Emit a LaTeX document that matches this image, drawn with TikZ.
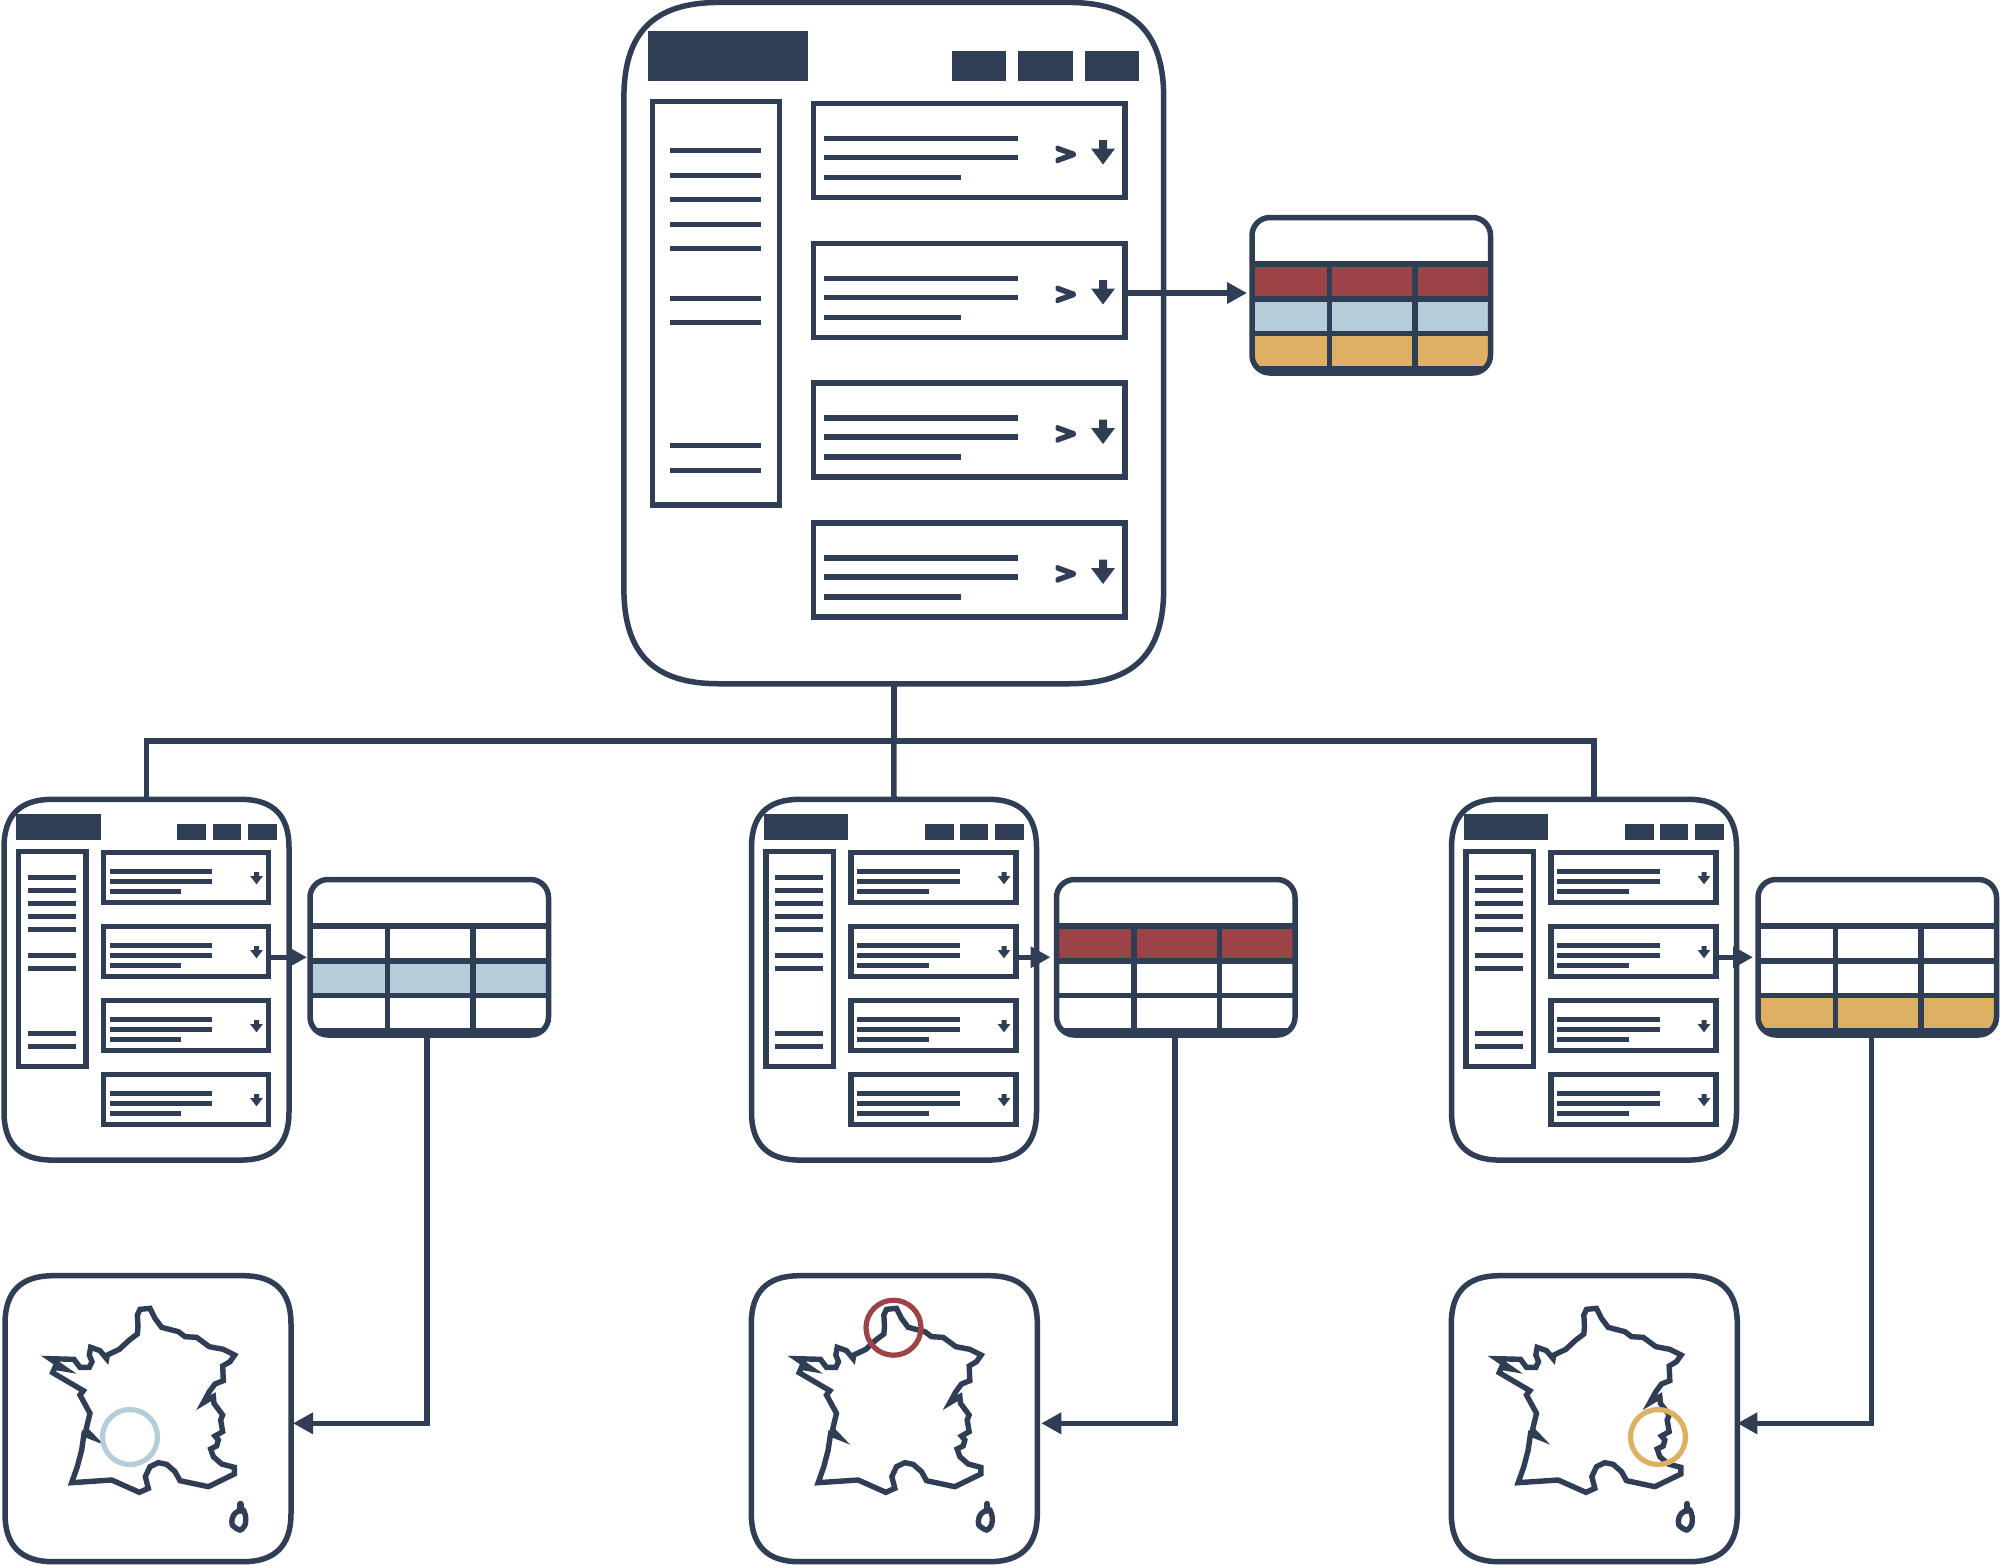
\documentclass[tikz,border=0pt]{standalone}
\usepackage{fontspec}
\setmainfont{Liberation Sans}
\newfontfamily\gtfont{DejaVu Sans}
\newcommand\heavy[1]{\special{pdf:code q 2 Tr 3.2 w 0.184 0.243 0.333 RG 1 j}#1\special{pdf:code Q}}
\usetikzlibrary{arrows.meta,calc}
\definecolor{ink}{HTML}{2F3E55}
\definecolor{redc}{HTML}{9B4347}
\definecolor{bluec}{HTML}{B4CDD9}
\definecolor{orangec}{HTML}{DEB064}
\tikzset{
  x=1pt,y=-1pt,
  ln/.style={draw=ink,line width=5.5pt,line join=miter},
  bx/.style={ln,inner sep=0pt,outer sep=0pt,rectangle},
  frameshape/.style={inner sep=0pt,outer sep=0pt,rectangle},
  tframe/.style={bx,rounded corners=18pt},
  wire/.style={ln},
  arr/.style={ln,-{Triangle[length=20pt,width=20.5pt]}},
  bar/.style={fill=ink},
  mapline/.style={ln,line width=5.4pt,miter limit=12},
  ring/.style={line width=5.2pt},
}
% squircle outline round a named node: name, corner run, control distance
\newcommand\sq[3]{%
  \draw[ln] let \p1=(#1.north west),\p2=(#1.south east) in
    (\x1+#2,\y1) -- (\x2-#2,\y1)
    .. controls (\x2-#3,\y1) and (\x2,\y1-#3) .. (\x2,\y1-#2)
    -- (\x2,\y2+#2)
    .. controls (\x2,\y2+#3) and (\x2-#3,\y2) .. (\x2-#2,\y2)
    -- (\x1+#2,\y2)
    .. controls (\x1+#3,\y2) and (\x1,\y2+#3) .. (\x1,\y2+#2)
    -- (\x1,\y1-#2)
    .. controls (\x1,\y1-#3) and (\x1+#3,\y1) .. (\x1+#2,\y1) -- cycle;}
% table: name, left x, top y, colour of rows 1,2,3
\newcommand\dtable[6]{%
  \begin{scope}[shift={(#2,#3)}]
    \begin{scope}
      \clip[rounded corners=18pt] (0,0) rectangle (238.5,155.5);
      \fill[#4] (0,46.5) rectangle (238.5,81);
      \fill[#5] (0,81) rectangle (238.5,116);
      \fill[#6] (0,116) rectangle (238.5,150);
      \draw[ln] (0,46.5) -- (238.5,46.5);
      \draw[ln] (0,81.5) -- (238.5,81.5);
      \draw[ln] (0,116) -- (238.5,116);
      \draw[ln] (77.5,46.5) -- (77.5,150);
      \draw[ln] (163,46.5) -- (163,150);
      \fill[ink] (0,148.5) rectangle (238.5,156);
    \end{scope}
    \node[tframe,minimum width=238.5pt,minimum height=155.5pt] (#1) at (119.25,77.75) {};
  \end{scope}}
% small document page
\newcommand\smalldoc[1]{%
  \node[frameshape,minimum width=285pt,minimum height=360.7pt] (#1f) at (146.5,979.7) {};
  \fill[bar] (16,814) rectangle (100.7,840);
  \fill[bar] (177.2,824) rectangle (206,840);
  \fill[bar] (212.8,824) rectangle (240.8,840);
  \fill[bar] (247.5,824) rectangle (276.6,840);
  \node[bx,minimum width=67.5pt,minimum height=215.4pt] (#1s) at (52.25,959) {};
  \foreach \yy in {877.3,890.3,903.3,916.3,929.3,955.3,968.3,1033.3,1046.3}
    \draw[ln] (27.7,\yy) -- (75.8,\yy);
  \foreach \k/\yy in {a/850,b/924,c/998,d/1072}{
    \node[bx,minimum width=165pt,minimum height=50.4pt] (#1\k) at (186.1,\yy+27.5) {};
    \draw[ln] (109.6,\yy+21.3) -- (212,\yy+21.3);
    \draw[ln] (109.6,\yy+31.3) -- (212,\yy+31.3);
    \draw[ln] (109.6,\yy+41.3) -- (181.4,\yy+41.3);
    \fill[ink] (254,\yy+22) -- (259,\yy+22) -- (259,\yy+26) -- (262.9,\yy+26)
      -- (256.5,\yy+34.3) -- (250.1,\yy+26) -- (254,\yy+26) -- cycle;
  }}
% map of France
\newcommand\francemap{%
  \begin{scope}[shift={(0,1260)},x=.33333pt,y=-.33333pt]
    \draw[mapline] (150,296) -- (222,298) -- (240,322) -- (268,322) -- (276,305)
      -- (268,285) -- (272,262) -- (300,272) -- (320,296) -- (322,285) -- (358,268)
      -- (388,240) -- (412,222) -- (414,200) -- (412,165) -- (420,148) -- (450,145)
      -- (465,175) -- (485,202) -- (535,215) -- (555,230) -- (590,232) -- (628,260)
      -- (670,268) -- (704,285) -- (690,305) -- (668,318) -- (670,362) -- (645,372)
      -- (628,395) -- (610,428) -- (640,410) -- (642,430) -- (668,465) -- (662,480)
      -- (668,515) -- (645,528) -- (655,540) -- (650,558) -- (632,567) -- (640,590)
      -- (665,612) -- (703,622) -- (703,642) -- (625,680) -- (540,662) -- (525,635)
      -- (500,613) -- (475,608) -- (450,620) -- (436,650) -- (445,685) -- (418,697)
      -- (335,660) -- (215,668) -- (232,620) -- (245,570) -- (252,522) -- (280,533)
      -- (258,510) -- (270,460) -- (240,405) -- (250,392) -- (158,338) -- (165,322)
      -- (195,327) -- cycle;
    \draw[mapline] plot[smooth cycle] coordinates
      {(722,750) (705,760) (697,775) (697,795) (720,810) (735,795) (737,770) (730,750)};
    \draw[mapline,line width=6.5pt,line cap=round] (721,732) -- (721,752);
  \end{scope}}
\begin{document}
\begin{tikzpicture}
\useasboundingbox (0,0) rectangle (2000,1566);
\fill[white] (0,0) rectangle (2000,1566);

% top document page
\node[frameshape,minimum width=539.8pt,minimum height=681.3pt] (top) at (893.8,343.1) {};
\sq{top}{95pt}{30pt}
\fill[bar] (648,31) rectangle (808,81);
\fill[bar] (952,51) rectangle (1006,81);
\fill[bar] (1018,51) rectangle (1073,81);
\fill[bar] (1085,51) rectangle (1139,81);
\node[bx,minimum width=127pt,minimum height=403.5pt] (tops) at (716,303.25) {};
\foreach \yy in {150.3,175.3,199.3,224.3,248.3,298.3,322.3,445.3,470.3}
  \draw[ln] (670,\yy) -- (761,\yy);
\foreach \k/\yy in {a/101,b/241,c/380.5,d/520.5}{
  \node[bx,minimum width=311.5pt,minimum height=94pt] (top\k) at (969.25,\yy+49.5) {};
  \draw[ln] (824,\yy+37.3) -- (1018,\yy+37.3);
  \draw[ln] (824,\yy+56.3) -- (1018,\yy+56.3);
  \draw[ln] (824,\yy+76.3) -- (961,\yy+76.3);
  \node[inner sep=0pt,text=ink,font=\fontsize{27}{27}\gtfont] (gt\k) at (1065.7,\yy+54) {\heavy{>}};
  \fill[ink] (1099,\yy+39) -- (1107,\yy+39) -- (1107,\yy+47.5) -- (1115,\yy+47.5)
    -- (1103,\yy+63.5) -- (1091,\yy+47.5) -- (1099,\yy+47.5) -- cycle;
}
\dtable{toptbl}{1252}{217.5}{redc}{bluec}{orangec}

% lower pages
\begin{scope}\smalldoc{A}\end{scope}
\begin{scope}[xshift=747.5pt]\smalldoc{B}\end{scope}
\begin{scope}[xshift=1447.5pt]\smalldoc{C}\end{scope}
\sq{Af}{48pt}{16pt}
\sq{Bf}{48pt}{16pt}
\sq{Cf}{48pt}{16pt}

\dtable{At}{310}{879.5}{white}{bluec}{white}
\dtable{Bt}{1056.5}{879.5}{redc}{white}{white}
\dtable{Ct}{1758}{879.5}{white}{white}{orangec}

% maps
\node[frameshape,minimum width=286pt,minimum height=286pt] (Am) at (148,1418.7) {};
\node[frameshape,minimum width=286pt,minimum height=286pt] (Bm) at (894.3,1418.7) {};
\node[frameshape,minimum width=286pt,minimum height=286pt] (Cm) at (1594.3,1418.7) {};
\sq{Am}{48pt}{16pt}
\sq{Bm}{48pt}{16pt}
\sq{Cm}{48pt}{16pt}
\begin{scope}\francemap\end{scope}
\begin{scope}[xshift=746.5pt]\francemap\end{scope}
\begin{scope}[xshift=1446.5pt]\francemap\end{scope}
\draw[ring,draw=bluec] (130,1437) circle [radius=27.5];
\draw[ring,draw=redc] (893.5,1327.7) circle [radius=27.5];
\draw[ring,draw=orangec] (1658,1437) circle [radius=27.5];

% connectors
\coordinate (bus) at (894,741);
\draw[wire] (top.south) -- (top.south |- bus);
\draw[wire] (Af.north) |- (bus) -| (Cf.north);
\draw[wire] (top.south |- bus) -- (Bf.north);
\draw[arr,shorten >=5pt] ([yshift=-2.5pt]topb.east) -- ([yshift=-2.5pt]topb.east -| toptbl.west);
\draw[arr,shorten >=3pt] (Ab.east |- At.west) -- (At.west);
\draw[arr,shorten >=6pt] (Bb.east |- Bt.west) -- (Bt.west);
\draw[arr,shorten >=5pt] (Cb.east |- Ct.west) -- (Ct.west);
\draw[arr,shorten >=2pt] ([xshift=-2.5pt]At.south) |- ([yshift=-4.6pt]Am.east);
\draw[arr,shorten >=4pt] ([xshift=-1pt]Bt.south) |- ([yshift=-4.6pt]Bm.east);
\draw[arr] ([xshift=-6pt]Ct.south) |- ([yshift=-4.6pt]Cm.east);
\end{tikzpicture}
\end{document}
